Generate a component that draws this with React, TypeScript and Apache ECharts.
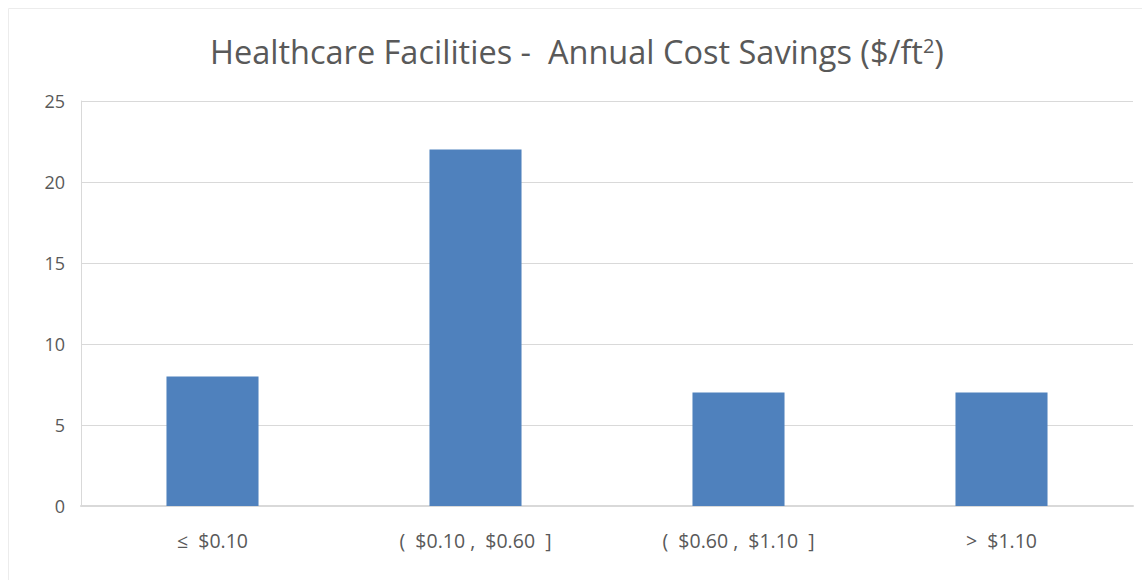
import React, { useEffect, useRef } from "react";
import * as echarts from "echarts";

const categories = ["≤  $0.10", "(  $0.10 ,  $0.60  ]", "(  $0.60 ,  $1.10  ]", ">  $1.10"];
const counts = [8, 22, 7, 7];
const yTicks = { min: 0, max: 25, interval: 5 };

export default function App() {
  const ref = useRef<HTMLDivElement>(null);
  useEffect(() => {
    if (!ref.current) return;
    const chart = echarts.init(ref.current, undefined, { renderer: "svg" });
    const font = "'Open Sans', 'Noto Sans', sans-serif";
    chart.setOption({
      animation: false,
      backgroundColor: "#ffffff",
      title: {
        text: "Healthcare Facilities -  Annual Cost Savings ($/ft{sup|2})",
        left: 205,
        top: 30,
        textStyle: {
          fontFamily: font,
          fontSize: 32.5,
          fontWeight: "normal",
          color: "#595959",
          rich: {
            sup: { fontFamily: font, fontSize: 20, color: "#595959", verticalAlign: "top", padding: [0, 0, 12, 0] },
          },
        },
      },
      graphic: [
        {
          type: "rect",
          shape: { x: 8.5, y: 8.5, width: 1140, height: 575 },
          style: { fill: "none", stroke: "#ececec", lineWidth: 1 },
          silent: true,
        },
      ],
      grid: { left: 81, right: 9, top: 101, bottom: 74, containLabel: false },
      xAxis: {
        type: "category",
        data: categories,
        axisLine: { show: true, lineStyle: { color: "#d9d9d9", width: 2 } },
        axisTick: { show: false },
        axisLabel: { color: "#595959", fontFamily: font, fontSize: 19.5, margin: 24 },
      },
      yAxis: {
        type: "value",
        min: yTicks.min,
        max: yTicks.max,
        interval: yTicks.interval,
        axisLine: { show: true, lineStyle: { color: "#d9d9d9", width: 1 } },
        axisTick: { show: false },
        splitLine: { lineStyle: { color: "#d9d9d9", width: 1 } },
        axisLabel: { color: "#595959", fontFamily: font, fontSize: 18, margin: 16 },
      },
      series: [
        {
          type: "bar",
          data: counts,
          barCategoryGap: "65%",
          itemStyle: { color: "#4F81BD" },
        },
      ],
    });
    return () => chart.dispose();
  }, []);
  return <div ref={ref} style={{ position: "absolute", left: 0, top: 0, width: 1142, height: 580 }} />;
}
